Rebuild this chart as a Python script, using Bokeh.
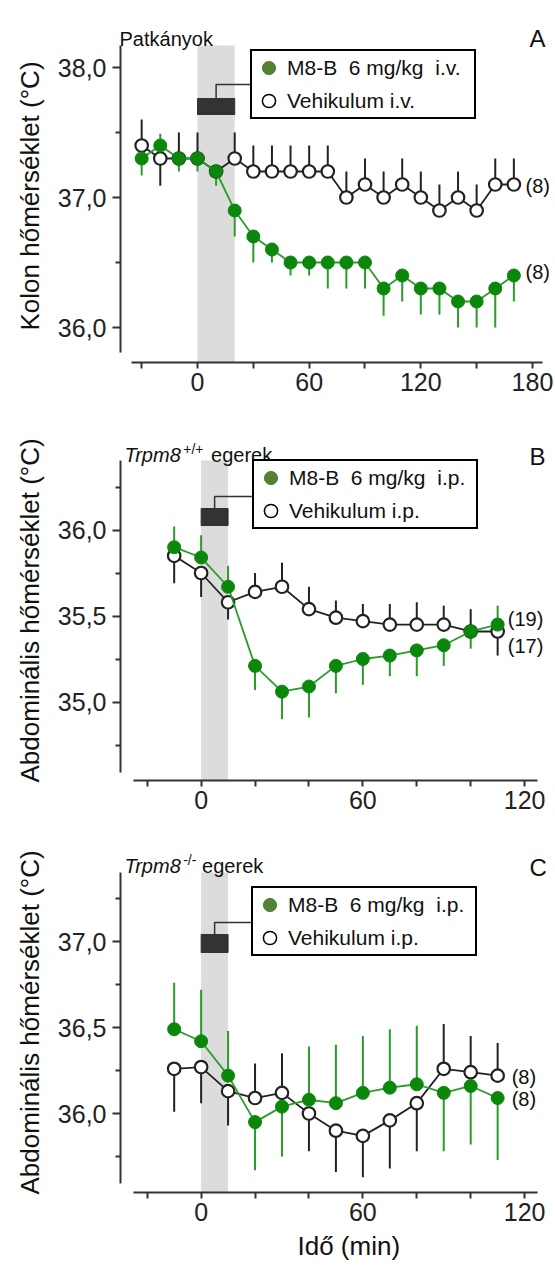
from bokeh.plotting import figure
from bokeh.models import (FixedTicker, CustomJSTickFormatter, BoxAnnotation, Label,
                          Legend, LegendItem, Title)
from bokeh.layouts import column
from bokeh.embed import file_html
from bokeh.resources import INLINE

# ---------------- data ----------------
time_a = [-30, -20, -10, 0, 10, 20, 30, 40, 50, 60, 70, 80, 90, 100, 110, 120, 130, 140, 150, 160, 170]
a_m8b = [37.3, 37.4, 37.3, 37.3, 37.2, 36.9, 36.7, 36.6, 36.5, 36.5, 36.5, 36.5, 36.5, 36.3, 36.4,
         36.3, 36.3, 36.2, 36.2, 36.3, 36.4]
a_m8b_err = [37.17, 37.49, 37.2, 37.2, 37.09, 36.7, 36.5, 36.5, 36.4, 36.4, 36.3, 36.3, 36.3, 36.09, 36.2,
             36.1, 36.1, 36.0, 36.0, 36.0, 36.2]
a_veh = [37.4, 37.3, 37.3, 37.3, 37.2, 37.3, 37.2, 37.2, 37.2, 37.2, 37.2, 37.0, 37.1, 37.0, 37.1,
         37.0, 36.9, 37.0, 36.9, 37.1, 37.1]
a_veh_err = [37.6, 37.09, 37.5, 37.5, 37.25, 37.5, 37.4, 37.4, 37.4, 37.4, 37.4, 37.2, 37.3, 37.2, 37.3,
             37.2, 37.1, 37.2, 37.1, 37.3, 37.3]

time_bc = [-10, 0, 10, 20, 30, 40, 50, 60, 70, 80, 90, 100, 110]
b_m8b = [35.90, 35.84, 35.67, 35.21, 35.06, 35.09, 35.21, 35.25, 35.27, 35.30, 35.33, 35.41, 35.45]
b_m8b_err = [36.02, 35.97, 35.79, 35.07, 34.90, 34.91, 35.05, 35.10, 35.15, 35.15, 35.21, 35.31, 35.56]
b_veh = [35.85, 35.75, 35.58, 35.64, 35.67, 35.54, 35.49, 35.47, 35.45, 35.45, 35.45, 35.41, 35.41]
b_veh_err = [35.69, 35.61, 35.48, 35.75, 35.81, 35.67, 35.59, 35.57, 35.57, 35.58, 35.56, 35.54, 35.27]

c_m8b = [36.49, 36.42, 36.22, 35.95, 36.04, 36.08, 36.06, 36.12, 36.15, 36.17, 36.12, 36.16, 36.09]
c_m8b_err = [36.76, 36.72, 36.48, 35.67, 35.75, 36.39, 36.40, 36.45, 36.49, 36.51, 35.78, 35.82, 35.73]
c_veh = [36.26, 36.27, 36.13, 36.09, 36.12, 36.00, 35.90, 35.87, 35.96, 36.06, 36.26, 36.24, 36.22]
c_veh_err = [36.01, 36.06, 35.93, 36.29, 36.35, 35.78, 35.66, 35.63, 35.68, 35.78, 36.52, 36.45, 36.41]

x_ticks_a = [0, 60, 120, 180]
x_minor_a = [-30, 30, 90, 150]
x_ticks_bc = [0, 60, 120]
x_minor_bc = [-20, 20, 40, 80, 100]
y_ticks_a = [36.0, 37.0, 38.0]
y_minor_a = [36.5, 37.5]
y_ticks_b = [35.0, 35.5, 36.0]
y_minor_b = [34.75, 35.25, 35.75, 36.25]
y_ticks_c = [36.0, 36.5, 37.0]
y_minor_c = [35.75, 36.25, 36.75, 37.25]

inj_a = (0, 20)
inj_bc = (0, 10)

FONT = "Liberation Sans"
GREEN = "#0b870b"
GREEN_LINE = "#2a9c2a"
LEG_GREEN = "#548235"
BLACK = "#222222"
AXIS = "#333333"
BAND = "#dcdcdc"
W = 555
NAN = float("nan")


def panel(cfg):
    top, height, fl, fb = cfg["top"], cfg["height"], cfg["frame_left"], cfg["frame_bottom"]
    t0, ppm, yref, yref_px, ppd = cfg["t0"], cfg["ppm"], cfg["yref"], cfg["yref_px"], cfg["ppd"]

    def X(px):
        return (px - t0) / ppm

    def Y(py):
        return yref + (yref_px - py) / ppd

    p = figure(width=W, height=height,
               x_range=(X(fl), X(W)), y_range=(Y(fb), Y(top)),
               min_border_left=fl, min_border_right=0, min_border_top=0,
               min_border_bottom=top + height - fb,
               output_backend="svg", toolbar_location=None)
    p.outline_line_color = None
    p.xgrid.visible = False
    p.ygrid.visible = False

    # axes
    for ax in (p.xaxis[0], p.yaxis[0]):
        ax.axis_line_color = AXIS
        ax.axis_line_width = 2
        ax.major_tick_line_color = AXIS
        ax.major_tick_line_width = 2
        ax.minor_tick_line_color = AXIS
        ax.minor_tick_line_width = 2
        ax.major_tick_in = 0
        ax.minor_tick_in = 0
        ax.major_label_text_font = FONT
        ax.major_label_text_font_size = "25px"
        ax.major_label_text_color = "#222222"
    xa, ya = p.xaxis[0], p.yaxis[0]
    xa.ticker = FixedTicker(ticks=cfg["xticks"], minor_ticks=cfg["xminor"])
    xa.major_tick_out = 6
    xa.minor_tick_out = 6
    xa.major_label_standoff = 4
    xa.bounds = (X(cfg["xaxis_px"][0]), X(cfg["xaxis_px"][1]))
    ya.ticker = FixedTicker(ticks=cfg["yticks"], minor_ticks=cfg["yminor"])
    ya.formatter = CustomJSTickFormatter(code="return tick.toFixed(1).replace('.', ',')")
    ya.major_tick_out = 8
    ya.minor_tick_out = 5
    ya.major_label_standoff = 6
    ya.bounds = (Y(cfg["yaxis_px"][1]), Y(cfg["yaxis_px"][0]))

    # axis titles as side titles (offset places them exactly along the axis)
    p.add_layout(Title(text=cfg["ylabel"], align="left", offset=fb - cfg["ylabel_start_px"],
                       standoff=20, text_font=FONT,
                       text_font_size="26px", text_font_style="normal", text_color="#111111"), "left")
    if cfg.get("xlabel"):
        p.add_layout(Title(text=cfg["xlabel"], align="left", offset=cfg["xlabel_start_px"] - fl,
                           standoff=11, text_font=FONT, text_font_size="26px",
                           text_font_style="normal", text_color="#111111"), "below")

    # injection band
    inj = cfg["inj"]
    p.add_layout(BoxAnnotation(left=inj[0], right=inj[1], top=Y(cfg["yaxis_px"][0]),
                               fill_color=BAND, fill_alpha=1, line_color=None, level="underlay"))

    t = cfg["t"]
    # vehicle
    p.segment(x0=t, y0=cfg["veh"], x1=t, y1=cfg["veh_err"], line_color=BLACK, line_width=2)
    p.line(t, cfg["veh"], line_color=BLACK, line_width=1.8)
    # M8-B
    p.segment(x0=t, y0=cfg["m8b"], x1=t, y1=cfg["m8b_err"], line_color=GREEN_LINE, line_width=2)
    p.scatter(t, cfg["veh"], size=12.5, fill_color="white", line_color=BLACK, line_width=2.2)
    p.line(t, cfg["m8b"], line_color=GREEN_LINE, line_width=1.8)
    p.scatter(t, cfg["m8b"], size=13, fill_color=GREEN, line_color=GREEN, line_width=1)

    # injection bar + connector
    bb, bt = Y(cfg["bar_px"][1]), Y(cfg["bar_px"][0])
    p.quad(left=[inj[0]], right=[inj[1]], bottom=[bb], top=[bt], fill_color="#333333", line_color="#333333")
    mid = (inj[0] + inj[1]) / 2
    cy = Y(cfg["conn_px"])
    p.line(x=[mid, mid, X(cfg["leg_px"][0])], y=[bt, cy, cy], line_color="#333333", line_width=1.5)

    # legend (swatch-only renderers, no visible points)
    r1 = p.scatter(x=[NAN], y=[NAN], fill_color=LEG_GREEN, line_color=LEG_GREEN)
    r2 = p.scatter(x=[NAN], y=[NAN], fill_color="white", line_color="black", line_width=1.5)
    leg = Legend(items=[LegendItem(label=cfg["leg1"], renderers=[r1]),
                        LegendItem(label=cfg["leg2"], renderers=[r2])],
                 location=(cfg["leg_px"][0] - fl, fb - cfg["leg_px"][1]),
                 glyph_width=33, glyph_height=33, padding=0, spacing=0, margin=0,
                 label_standoff=2, label_width=187,
                 label_text_font=FONT, label_text_font_size="21px", label_text_color="#111111",
                 border_line_color="black", border_line_width=2.5, border_line_alpha=1,
                 background_fill_color="white", background_fill_alpha=1)
    p.add_layout(leg)

    # n labels
    for (txt, px, py) in cfg["nlabels"]:
        p.add_layout(Label(x=X(px), y=Y(py), text=txt, text_font=FONT, text_font_size="20px",
                           text_color="#111111", text_baseline="middle"))
    # titles
    for (txt, px, py, size, style) in cfg["titles"]:
        p.add_layout(Label(x=X(px), y=Y(py), text=txt, text_font=FONT, text_font_size=size,
                           text_font_style=style, text_color="#111111", text_baseline="alphabetic"))
    return p


cfg_a = dict(top=0, height=405, frame_left=120, frame_bottom=362, t0=197, ppm=1.861,
             yref=37.0, yref_px=197, ppd=130, xaxis_px=(131, 542), yaxis_px=(45, 352),
             xticks=x_ticks_a, xminor=x_minor_a, yticks=y_ticks_a, yminor=y_minor_a,
             ylabel="Kolon hőmérséklet (°C)", ylabel_start_px=330, inj=inj_a, t=time_a,
             m8b=a_m8b, m8b_err=a_m8b_err, veh=a_veh, veh_err=a_veh_err,
             bar_px=(98, 114), conn_px=84, leg_px=(250, 119),
             leg1="M8-B\u00a0 6 mg/kg\u00a0 i.v.", leg2="Vehikulum i.v.",
             nlabels=[("(8)", 525, 185), ("(8)", 525, 271.7)],
             titles=[("Patkányok", 119, 38, "20px", "normal"), ("A", 529, 38, "24px", "normal")])

cfg_b = dict(top=405, height=435, frame_left=118, frame_bottom=780, t0=199, ppm=2.708,
             yref=36.0, yref_px=529.5, ppd=172, xaxis_px=(131, 537), yaxis_px=(460, 772),
             xticks=x_ticks_bc, xminor=x_minor_bc, yticks=y_ticks_b, yminor=y_minor_b,
             ylabel="Abdominális hőmérséklet (°C)", ylabel_start_px=782, inj=inj_bc, t=time_bc,
             m8b=b_m8b, m8b_err=b_m8b_err, veh=b_veh, veh_err=b_veh_err,
             bar_px=(508, 525), conn_px=496, leg_px=(250, 529),
             leg1="M8-B\u00a0 6 mg/kg\u00a0 i.p.", leg2="Vehikulum i.p.",
             nlabels=[("(19)", 507, 618), ("(17)", 507, 645)],
             titles=[("Trpm8", 122, 454, "20px", "italic"), ("+/+", 181, 448, "14px", "normal"),
                     ("egerek", 209, 454, "20px", "normal"), ("B", 529, 456, "24px", "normal")])

cfg_c = dict(top=840, height=426, frame_left=118, frame_bottom=1192, t0=199, ppm=2.708,
             yref=36.0, yref_px=1113, ppd=172, xaxis_px=(131, 537), yaxis_px=(872, 1183),
             xticks=x_ticks_bc, xminor=x_minor_bc, yticks=y_ticks_c, yminor=y_minor_c,
             ylabel="Abdominális hőmérséklet (°C)", ylabel_start_px=1194,
             xlabel="Idő (min)", xlabel_start_px=295, inj=inj_bc, t=time_bc,
             m8b=c_m8b, m8b_err=c_m8b_err, veh=c_veh, veh_err=c_veh_err,
             bar_px=(934, 952), conn_px=922, leg_px=(249, 956),
             leg1="M8-B\u00a0 6 mg/kg\u00a0 i.p.", leg2="Vehikulum i.p.",
             nlabels=[("(8)", 511, 1076), ("(8)", 511, 1098)],
             titles=[("Trpm8", 122, 865, "20px", "italic"), ("-/-", 181, 859, "14px", "normal"),
                     ("egerek", 200, 865, "20px", "normal"), ("C", 529, 867, "24px", "normal")])

pa = panel(cfg_a)
pb = panel(cfg_b)
pc = panel(cfg_c)

layout = column(pa, pb, pc, spacing=0)
open("out.html", "w").write(file_html(layout, INLINE))
